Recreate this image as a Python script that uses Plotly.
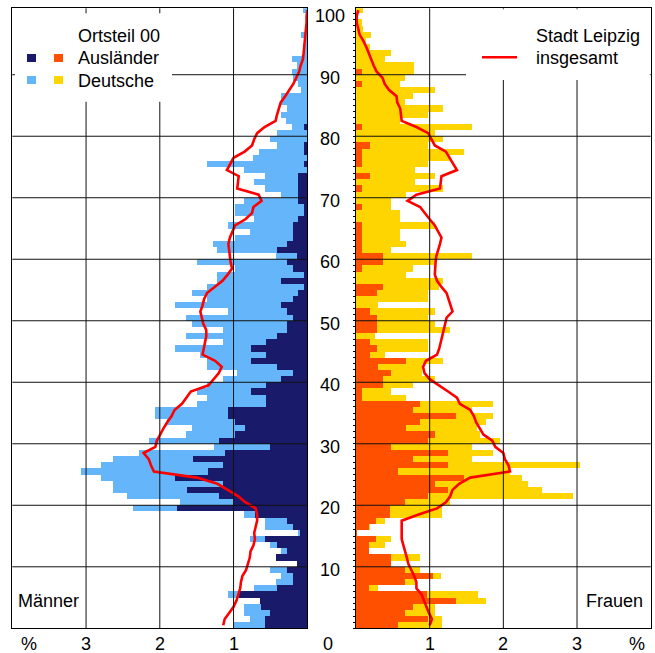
import plotly.graph_objects as go

# ---------------- data ----------------
ages = list(range(0, 101))

# Ortsteil 00, Männer: total (Deutsche + Ausländer) and Ausländer, % per age year
maenner_gesamt = [0.99, 0.78, 0.86, 0.86, 0.64, 1.08, 0.72, 0.42, 0.36, 0.50,
                  0.14, 0.42, 0.35, 0.50, 0.78, 0.13, 0.57, 0.57, 0.86, 2.36,
                  1.72, 2.44, 2.64, 2.64, 2.80, 3.07, 2.80, 2.64, 2.28, 1.27,
                  2.15, 1.65, 1.56, 1.90, 2.07, 2.07, 1.50, 1.36, 1.50, 1.36,
                  1.14, 0.95, 1.36, 1.36, 1.45, 1.80, 1.14, 1.65, 1.14, 1.57,
                  1.65, 1.08, 1.80, 1.36, 1.57, 1.36, 1.22, 1.22, 0.98, 1.50,
                  0.42, 1.22, 1.28, 0.98, 0.78, 1.08, 0.72, 0.98, 0.98, 0.86,
                  0.36, 0.57, 0.72, 0.57, 0.86, 1.36, 0.73, 0.65, 0.41, 0.50,
                  0.41, 0.21, 0.29, 0.36, 0.28, 0.36, 0.36, 0.08, 0.13, 0.20,
                  0.21, 0.14, 0.21, 0.05, 0.06, 0.02, 0.08, 0.00, 0.00, 0.00,
                  0.06]
maenner_auslaender = [0.57, 0.57, 0.50, 0.63, 0.64, 0.92, 0.41, 0.20, 0.20, 0.28,
                      0.14, 0.42, 0.28, 0.41, 0.57, 0.10, 0.19, 0.28, 0.71, 1.77,
                      1.00, 1.20, 1.63, 1.14, 1.79, 1.34, 1.14, 1.55, 1.11, 0.50,
                      1.20, 0.98, 0.84, 0.98, 1.07, 1.07, 0.56, 0.56, 0.77, 0.56,
                      0.35, 0.20, 0.41, 0.77, 0.56, 0.77, 0.56, 0.41, 0.28, 0.28,
                      0.19, 0.28, 0.35, 0.19, 0.12, 0.05, 0.35, 0.05, 0.19, 0.28,
                      0.14, 0.41, 0.28, 0.19, 0.19, 0.19, 0.12, 0.05, 0.05, 0.12,
                      0.12, 0.12, 0.12, 0.12, 0.00, 0.05, 0.00, 0.05, 0.05, 0.00,
                      0.00, 0.05, 0.00, 0.00, 0.00, 0.00, 0.00, 0.00, 0.00, 0.00,
                      0.00, 0.00, 0.00, 0.00, 0.00, 0.00, 0.00, 0.00, 0.00, 0.00,
                      0.00]
# Stadt Leipzig insgesamt, Männer
maenner_stadt = [1.14, 1.12, 1.06, 1.00, 0.96, 0.93, 0.91, 0.90, 0.88, 0.83,
                 0.80, 0.78, 0.77, 0.73, 0.71, 0.72, 0.70, 0.68, 0.68, 0.70,
                 0.84, 0.94, 1.08, 1.22, 1.50, 2.08, 2.12, 2.15, 2.22, 2.06,
                 2.04, 2.00, 1.95, 1.90, 1.84, 1.80, 1.70, 1.64, 1.58, 1.34,
                 1.27, 1.20, 1.16, 1.25, 1.42, 1.40, 1.38, 1.37, 1.37, 1.41,
                 1.43, 1.45, 1.42, 1.40, 1.36, 1.25, 1.15, 1.08, 1.02, 1.04,
                 1.05, 1.06, 1.07, 1.05, 1.02, 0.98, 0.84, 0.75, 0.73, 0.62,
                 0.66, 0.95, 0.94, 0.93, 1.09, 1.05, 1.00, 0.85, 0.75, 0.72,
                 0.68, 0.58, 0.43, 0.41, 0.39, 0.36, 0.30, 0.24, 0.19, 0.15,
                 0.11, 0.09, 0.06, 0.05, 0.04, 0.03, 0.02, 0.02, 0.01, 0.01,
                 0.00]

# Ortsteil 00, Frauen
frauen_gesamt = [1.17, 1.17, 1.07, 1.07, 1.76, 1.66, 0.30, 0.82, 1.16, 0.87,
                 0.48, 0.87, 0.18, 0.39, 0.48, 0.02, 0.19, 0.39, 1.17, 1.17,
                 1.28, 2.94, 2.53, 2.34, 2.25, 2.09, 3.04, 1.57, 1.86, 1.57,
                 1.95, 1.68, 1.64, 1.76, 1.86, 1.57, 1.86, 0.68, 0.48, 0.78,
                 1.07, 0.89, 0.89, 1.18, 0.39, 0.98, 0.98, 0.26, 1.28, 1.07,
                 0.98, 1.07, 0.30, 0.98, 0.98, 1.12, 1.18, 0.68, 0.78, 1.07,
                 1.57, 0.48, 0.68, 0.60, 0.60, 1.07, 0.60, 0.60, 0.48, 0.48,
                 0.68, 1.18, 0.80, 1.07, 0.80, 0.98, 1.28, 1.47, 0.98, 1.18,
                 1.07, 1.57, 0.60, 0.98, 1.18, 0.67, 0.78, 1.07, 0.60, 0.67,
                 0.79, 0.79, 0.39, 0.48, 0.19, 0.14, 0.20, 0.10, 0.08, 0.02,
                 0.09]
frauen_auslaender = [0.57, 0.98, 0.66, 0.77, 1.36, 0.96, 0.18, 0.66, 1.05, 0.66,
                     0.48, 0.48, 0.18, 0.18, 0.27, 0.02, 0.18, 0.27, 0.46, 0.46,
                     0.67, 0.98, 1.25, 1.07, 1.46, 0.57, 1.25, 0.78, 1.25, 0.48,
                     0.98, 1.07, 0.68, 0.87, 1.36, 0.78, 0.87, 0.08, 0.08, 0.37,
                     0.37, 0.48, 0.30, 0.68, 0.19, 0.28, 0.19, 0.00, 0.28, 0.28,
                     0.28, 0.19, 0.00, 0.00, 0.28, 0.37, 0.00, 0.00, 0.08, 0.37,
                     0.37, 0.08, 0.08, 0.08, 0.08, 0.08, 0.00, 0.00, 0.08, 0.00,
                     0.00, 0.08, 0.00, 0.19, 0.00, 0.08, 0.08, 0.08, 0.19, 0.00,
                     0.00, 0.08, 0.00, 0.00, 0.00, 0.00, 0.00, 0.00, 0.08, 0.00,
                     0.08, 0.00, 0.00, 0.00, 0.00, 0.00, 0.00, 0.00, 0.00, 0.00,
                     0.00]
# Stadt Leipzig insgesamt, Frauen
frauen_stadt = [1.00, 1.03, 0.99, 0.96, 0.92, 0.89, 0.82, 0.82, 0.79, 0.75,
                0.71, 0.69, 0.67, 0.64, 0.62, 0.62, 0.62, 0.62, 0.85, 1.10,
                1.22, 1.28, 1.31, 1.40, 1.55, 2.09, 2.07, 2.02, 2.00, 1.89,
                1.85, 1.73, 1.68, 1.63, 1.60, 1.55, 1.41, 1.37, 1.25, 1.12,
                1.00, 0.93, 0.91, 0.95, 1.10, 1.13, 1.15, 1.16, 1.18, 1.20,
                1.23, 1.31, 1.28, 1.25, 1.23, 1.16, 1.10, 1.07, 1.07, 1.08,
                1.09, 1.12, 1.14, 1.16, 1.12, 1.07, 1.00, 0.93, 0.87, 0.70,
                0.82, 1.14, 1.15, 1.16, 1.37, 1.32, 1.28, 1.22, 1.07, 1.02,
                0.98, 0.82, 0.62, 0.61, 0.60, 0.56, 0.55, 0.45, 0.39, 0.36,
                0.28, 0.24, 0.21, 0.18, 0.14, 0.10, 0.05, 0.03, 0.01, 0.01,
                0.03]

age_ticks = [10, 20, 30, 40, 50, 60, 70, 80, 90, 100]
pct_ticks = [1, 2, 3]
grid_ages = [10, 20, 30, 40, 50, 60, 70, 80, 90]

# ---------------- styling ----------------
W, H = 655, 653
DARK = "#1a1a6b"
LIGHT = "#64b5fa"
ORANGE = "#ff5000"
YELLOW = "#ffd500"
RED = "#ff0000"
FONT = dict(family="Liberation Sans, Arial, sans-serif", size=18, color="#000000")


def PX(x):
    return x / W


def PY(y):
    return 1 - y / H


yc = [a + 0.5 for a in ages]

fig = go.Figure()
fig.add_trace(go.Bar(x=maenner_gesamt, y=yc, orientation="h", width=1,
                     marker=dict(color=LIGHT, line=dict(width=0)),
                     xaxis="x", yaxis="y", name="Deutsche (M)"))
fig.add_trace(go.Bar(x=maenner_auslaender, y=yc, orientation="h", width=1,
                     marker=dict(color=DARK, line=dict(width=0)),
                     xaxis="x", yaxis="y", name="Ausländer (M)"))
fig.add_trace(go.Scatter(x=maenner_stadt, y=yc, mode="lines",
                         line=dict(color=RED, width=2.6),
                         xaxis="x", yaxis="y", name="Stadt Leipzig (M)"))
fig.add_trace(go.Bar(x=frauen_gesamt, y=yc, orientation="h", width=1,
                     marker=dict(color=YELLOW, line=dict(width=0)),
                     xaxis="x2", yaxis="y2", name="Deutsche (F)"))
fig.add_trace(go.Bar(x=frauen_auslaender, y=yc, orientation="h", width=1,
                     marker=dict(color=ORANGE, line=dict(width=0)),
                     xaxis="x2", yaxis="y2", name="Ausländer (F)"))
fig.add_trace(go.Scatter(x=frauen_stadt, y=yc, mode="lines",
                         line=dict(color=RED, width=2.6),
                         xaxis="x2", yaxis="y2", name="Stadt Leipzig (F)"))

ydom = [PY(628.3), PY(8.3)]
axis_common = dict(showgrid=False, zeroline=False, showticklabels=False,
                   showline=True, mirror=True, linecolor="#000000", linewidth=1,
                   ticks="", fixedrange=True)

shapes = []
# grid lines drawn above bars (as in the reference)
for ax, yref in (("x", "y"), ("x2", "y2")):
    for v in pct_ticks:
        shapes.append(dict(type="line", xref=ax, yref=yref + " domain",
                           x0=v, x1=v, y0=0, y1=1, layer="above",
                           line=dict(color="#111111", width=1)))
    for a in grid_ages:
        shapes.append(dict(type="line", xref=ax + " domain", yref=yref,
                           x0=0, x1=1, y0=a, y1=a, layer="above",
                           line=dict(color="#111111", width=1)))

# legend boxes (white, covering grid)
shapes.append(dict(type="rect", xref="paper", yref="paper",
                   x0=PX(15), x1=PX(172), y0=PY(101.7), y1=PY(13.3),
                   fillcolor="white", line=dict(width=0), layer="above"))
shapes.append(dict(type="rect", xref="paper", yref="paper",
                   x0=PX(466), x1=PX(649.8), y0=PY(80), y1=PY(9.2),
                   fillcolor="white", line=dict(width=0), layer="above"))
# legend squares
for (x0, y0, col) in ((27, 54, DARK), (54, 54, ORANGE), (27, 76, LIGHT), (54, 76, YELLOW)):
    shapes.append(dict(type="rect", xref="paper", yref="paper",
                       x0=PX(x0), x1=PX(x0 + 9), y0=PY(y0 + 8), y1=PY(y0),
                       fillcolor=col, line=dict(width=0), layer="above"))
# legend line sample
shapes.append(dict(type="line", xref="paper", yref="paper",
                   x0=PX(482), x1=PX(517), y0=PY(57.3), y1=PY(57.3),
                   line=dict(color=RED, width=2.6), layer="above"))

annotations = []


def txt(text, x, y, xanchor="left", **kw):
    d = dict(text=text, x=x, y=y, xanchor=xanchor, yanchor="middle",
             showarrow=False, font=FONT)
    d.update(kw)
    if "xref" not in d:
        d["xref"] = "paper"
    if "yref" not in d:
        d["yref"] = "paper"
    annotations.append(d)


txt("Ortsteil 00", PX(76), PY(36))
txt("Ausländer", PX(76), PY(58.5))
txt("Deutsche", PX(76), PY(81))
txt("Stadt Leipzig", PX(534), PY(36))
txt("insgesamt", PX(534), PY(58.5))
txt("Männer", PX(16), PY(600.5))
txt("Frauen", PX(645), PY(600.5), xanchor="right")

# age labels in the centre
for a in age_ticks:
    txt(str(a), PX(330), a, xanchor="center", yref="y", yshift=-3)
txt("0", PX(328), PY(643.5), xanchor="center")

# percent labels under both panels
for v in pct_ticks:
    txt(str(v), v, PY(643.5), xanchor="center", xref="x")
    txt(str(v), v, PY(643.5), xanchor="center", xref="x2")
txt("%", 3.78, PY(643.5), xanchor="center", xref="x")
txt("%", 3.81, PY(643.5), xanchor="center", xref="x2")

fig.update_layout(
    width=W, height=H, autosize=False,
    margin=dict(l=0, r=0, t=0, b=0, pad=0),
    paper_bgcolor="white", plot_bgcolor="white",
    barmode="overlay", bargap=0, showlegend=False,
    font=FONT,
    xaxis=dict(domain=[PX(12.3), PX(307.3)], range=[4, 0], anchor="y", **axis_common),
    yaxis=dict(domain=ydom, range=[0, 100.8], anchor="x", **axis_common),
    xaxis2=dict(domain=[PX(356), PX(650.7)], range=[0, 4], anchor="y2", **axis_common),
    yaxis2=dict(domain=ydom, range=[0, 100.8], anchor="x2",
                **{**axis_common, "ticks": "outside", "ticklen": 2, "tickwidth": 1,
                   "tickcolor": "#000000", "tick0": 0, "dtick": 1}),
    shapes=shapes,
    annotations=annotations,
)

fig.write_html("out.html", config={"staticPlot": True},
               post_script="document.body.style.margin='0px';"
                           "document.body.style.overflow='hidden';")
